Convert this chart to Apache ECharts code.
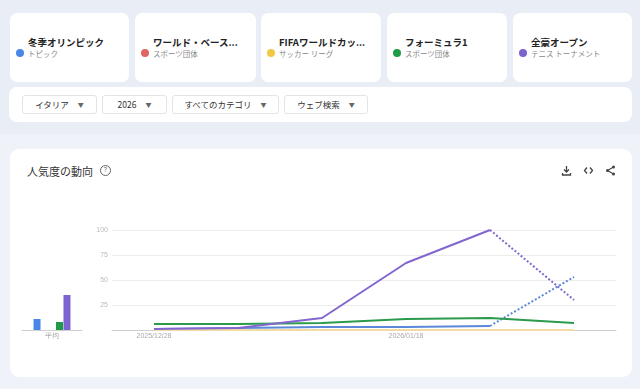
<!DOCTYPE html>
<html>
<head>
<meta charset="utf-8">
<script src="https://cdn.jsdelivr.net/npm/echarts@6/dist/echarts.min.js"></script>
<style>
  html, body { margin: 0; padding: 0; }
  body {
    width: 640px; height: 389px; overflow: hidden; position: relative;
    background: #eff2f8;
    font-family: Roboto, "Noto Sans CJK JP", sans-serif;
  }
  .topband { position: absolute; left: 0; top: 0; width: 640px; height: 134px; background: #e8edf6; }
  .card { position: absolute; top: 13px; height: 69px; background: #fff; border-radius: 7px; }
  .card .dot { position: absolute; left: 6px; top: 36px; width: 8px; height: 8px; border-radius: 50%; }
  .card .name { position: absolute; left: 18px; top: 22px; font-size: 9.5px; font-weight: bold; color: #222;
    font-family: "Noto Sans CJK JP", sans-serif; white-space: nowrap; }
  .card .sub { position: absolute; left: 18px; top: 35px; font-size: 7.5px; color: #888;
    font-family: "Noto Sans CJK JP", sans-serif; white-space: nowrap; }
  .filters { position: absolute; left: 9px; top: 87px; width: 623px; height: 35px; background: #fff; border-radius: 8px; }
  .btn { position: absolute; top: 8px; height: 19px; border: 1px solid #e2e4e8; border-radius: 3px; box-sizing: border-box;
    font-size: 8.5px; color: #333; font-family: "Noto Sans CJK JP", sans-serif; line-height: 17px; text-align: center; }
  .btn .caret { display: inline-block; margin-left: 9px; font-size: 6px; color: #666; vertical-align: 1px; }
  .panel { position: absolute; left: 10px; top: 149px; width: 622px; height: 228px; background: #fff; border-radius: 9px; }
  .title { position: absolute; left: 17px; top: 14px; font-size: 11px; color: #333; font-family: "Noto Sans CJK JP", sans-serif; }
  .help { position: absolute; left: 90px; top: 16px; width: 9px; height: 9px; border: 1px solid #666; border-radius: 50%;
    font-size: 7px; color: #666; text-align: center; line-height: 9px; }
  .icon { position: absolute; top: 16px; }
  #chart { position: absolute; left: 0; top: 0; width: 640px; height: 389px; }
</style>
</head>
<body>
<div class="topband"></div>
<div id="cards"></div>
<div class="filters">
  <div class="btn" style="left:13px;width:75px;">イタリア<span class="caret">▼</span></div>
  <div class="btn" style="left:93px;width:65px;">2026<span class="caret">▼</span></div>
  <div class="btn" style="left:163px;width:107px;">すべてのカテゴリ<span class="caret">▼</span></div>
  <div class="btn" style="left:275px;width:84px;">ウェブ検索<span class="caret">▼</span></div>
</div>
<div class="panel">
  <div class="title">人気度の動向</div>
  <div class="help">?</div>
  <svg class="icon" style="left:551px" width="11" height="11" viewBox="0 0 11 11">
    <path d="M5.5 1 V7 M3 4.5 L5.5 7 L8 4.5 M1.5 8 V10 H9.5 V8" stroke="#444" stroke-width="1.3" fill="none"/>
  </svg>
  <svg class="icon" style="left:573px" width="11" height="11" viewBox="0 0 11 11">
    <path d="M4 2.5 L1.5 5.5 L4 8.5 M7 2.5 L9.5 5.5 L7 8.5" stroke="#444" stroke-width="1.3" fill="none"/>
  </svg>
  <svg class="icon" style="left:595px" width="11" height="11" viewBox="0 0 11 11">
    <path d="M8.5 2 L2.5 5.5 L8.5 9" stroke="#444" stroke-width="1.1" fill="none"/>
    <circle cx="8.5" cy="2" r="1.5" fill="#444"/><circle cx="2.5" cy="5.5" r="1.5" fill="#444"/><circle cx="8.5" cy="9" r="1.5" fill="#444"/>
  </svg>
</div>
<div id="chart"></div>
<script>
// 検索語句
const terms = ['冬季オリンピック', 'ワールド・ベース...', 'FIFAワールドカッ...', 'フォーミュラ1', '全豪オープン'];
const termTypes = ['トピック', 'スポーツ団体', 'サッカー リーグ', 'スポーツ団体', 'テニス トーナメント'];
const colors = ['#4a86e8', '#e06461', '#f3c746', '#1f9a47', '#7d62d2'];

// 週ごとの値
const dates = ['2025/12/28', '2026/01/04', '2026/01/11', '2026/01/18', '2026/01/25', '2026/02/01'];
const olympic = [1, 2, 3, 3, 4, 53];
const baseball = [0, 0, 0, 0, 0, 0];
const fifa = [0, 0, 0, 0, 0, 0];
const formula1 = [6, 6, 7, 11, 12, 7];
const ausOpen = [1, 2, 12, 67, 100, 30];
const averages = [11, 0, 0, 8, 35];
const partial = [true, false, false, false, true]; // 最終週は点線

const yTicks = [0, 25, 50, 75, 100];

// カード
const cardLeft = [10, 135, 261, 387, 513];
const cardWidth = [119, 121, 120, 120, 119];
let html = '';
terms.forEach(function (t, i) {
  html += '<div class="card" style="left:' + cardLeft[i] + 'px;width:' + cardWidth[i] + 'px">' +
    '<div class="dot" style="background:' + colors[i] + '"></div>' +
    '<div class="name">' + t + '</div>' +
    '<div class="sub">' + termTypes[i] + '</div></div>';
});
document.getElementById('cards').innerHTML = html;

const lineColors = ['#5b88d8', '#e06461', '#f2dca4', '#2b9a4c', '#8366d0'];
const seriesValues = [olympic, baseball, fifa, formula1, ausOpen];
const drawOrder = [1, 2, 3, 0, 4];

let series = [];
drawOrder.forEach(function (k) {
  const vals = seriesValues[k];
  const n = vals.length;
  if (partial[k]) {
    series.push({
      type: 'line', xAxisIndex: 0, yAxisIndex: 0, showSymbol: false, symbol: 'none',
      data: vals.map(function (v, i) { return i < n - 1 ? v : null; }),
      lineStyle: { color: lineColors[k], width: 2 }, z: 2 + k
    });
    series.push({
      type: 'line', xAxisIndex: 0, yAxisIndex: 0, showSymbol: false, symbol: 'none',
      data: vals.map(function (v, i) { return i >= n - 2 ? v : null; }),
      lineStyle: { color: lineColors[k], width: 2, type: [2, 2] }, z: 2 + k
    });
  } else {
    series.push({
      type: 'line', xAxisIndex: 0, yAxisIndex: 0, showSymbol: false, symbol: 'none',
      data: vals, lineStyle: { color: lineColors[k], width: 2 }, z: 2 + k
    });
  }
});

averages.forEach(function (v, i) {
  series.push({
    type: 'bar', xAxisIndex: 1, yAxisIndex: 1, data: [v],
    barWidth: 7, barGap: '7%', itemStyle: { color: colors[i] }
  });
});

const chart = echarts.init(document.getElementById('chart'));
chart.setOption({
  animation: false,
  grid: [
    { left: 112, right: 24, top: 230, height: 100 },
    { left: 22, width: 60, top: 230, height: 100 }
  ],
  xAxis: [
    {
      type: 'category', gridIndex: 0, data: dates, boundaryGap: true,
      axisLine: { lineStyle: { color: '#cfcfcf', width: 1 } },
      axisTick: { show: false },
      axisLabel: { interval: 2, fontSize: 7, color: '#aaa', margin: 3 }
    },
    {
      type: 'category', gridIndex: 1, data: ['平均'],
      axisLine: { lineStyle: { color: '#cfcfcf', width: 1 } },
      axisTick: { show: false },
      axisLabel: { fontSize: 7, color: '#999', margin: 3 }
    }
  ],
  yAxis: [
    {
      type: 'value', gridIndex: 0, min: yTicks[0], max: yTicks[yTicks.length - 1], interval: 25,
      axisLine: { show: false }, axisTick: { show: false },
      splitLine: { lineStyle: { color: '#ececec', width: 1 } },
      axisLabel: {
        fontSize: 7, color: '#bbb', margin: 4,
        formatter: function (v) { return v === 0 ? '' : String(v); }
      }
    },
    {
      type: 'value', gridIndex: 1, min: 0, max: 100, show: false
    }
  ],
  series: series
});
</script>
</body>
</html>
